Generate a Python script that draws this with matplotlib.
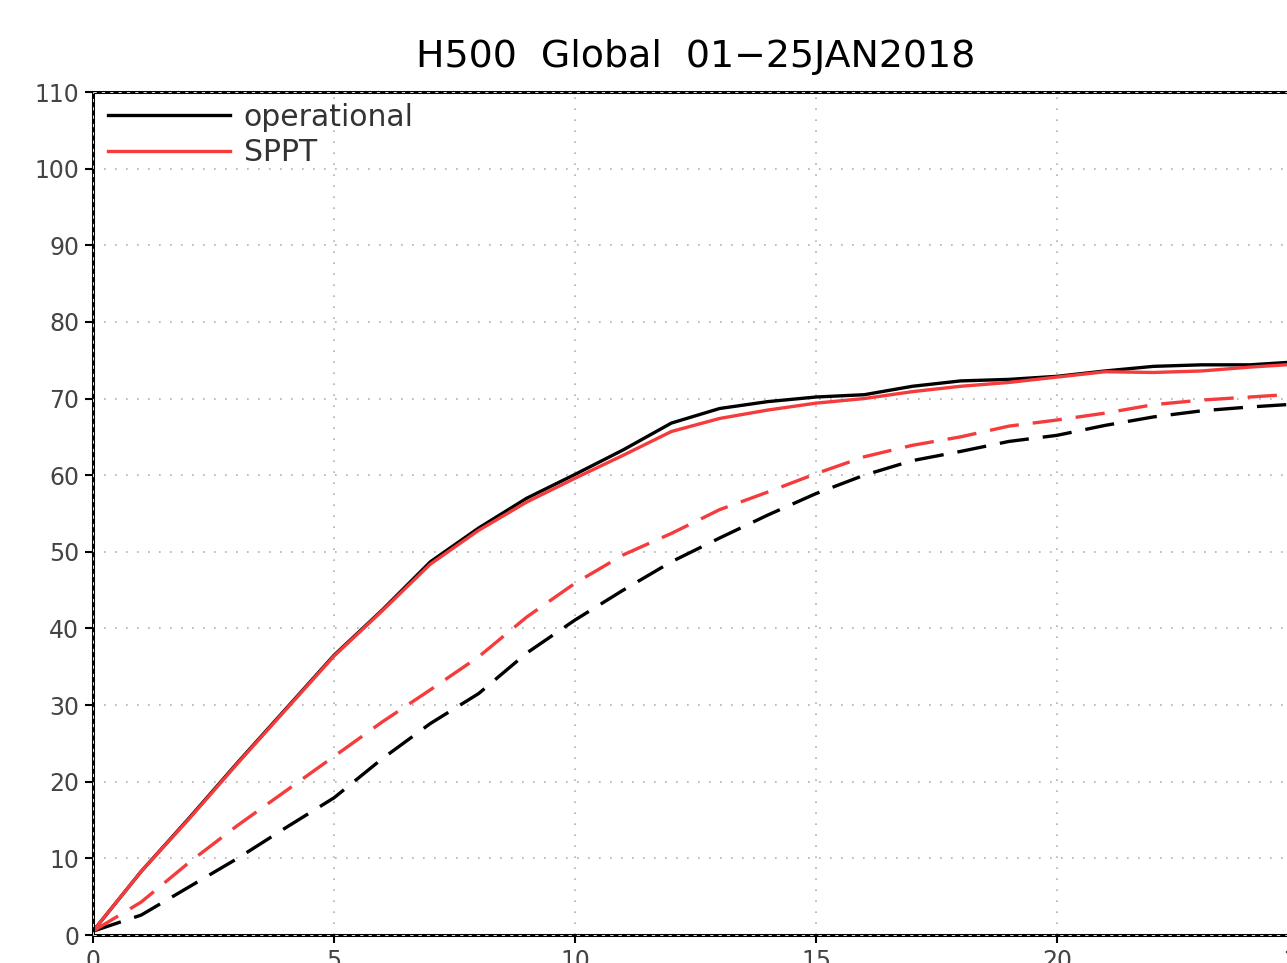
import numpy as np
import matplotlib
matplotlib.use("Agg")
import matplotlib.pyplot as plt

# forecast day
days = list(range(0, 26))

# solid: operational / SPPT (upper pair), dashed: lower pair
op_solid = [0.5, 8.3, 15.3, 22.5, 29.5, 36.5, 42.4, 48.7, 53.1, 57.0, 60.1, 63.3, 66.8,
            68.7, 69.6, 70.2, 70.5, 71.6, 72.3, 72.5, 72.9, 73.6, 74.2, 74.4, 74.4, 74.8]
sppt_solid = [0.5, 8.3, 15.2, 22.4, 29.4, 36.4, 42.3, 48.4, 52.8, 56.5, 59.6, 62.6, 65.7,
              67.4, 68.5, 69.4, 70.0, 70.9, 71.6, 72.1, 72.8, 73.5, 73.4, 73.6, 74.1, 74.5]
op_dash = [0.5, 2.6, 6.3, 10.0, 14.0, 17.9, 23.0, 27.6, 31.5, 36.8, 41.1, 45.0, 48.7,
           51.8, 54.8, 57.6, 60.0, 61.9, 63.1, 64.4, 65.2, 66.5, 67.6, 68.4, 68.9, 69.3]
sppt_dash = [0.5, 4.3, 9.5, 14.3, 18.8, 23.3, 27.8, 32.0, 36.3, 41.5, 45.9, 49.6, 52.4,
             55.5, 57.8, 60.2, 62.4, 63.9, 65.0, 66.4, 67.2, 68.1, 69.2, 69.8, 70.2, 70.6]

xticks = [0, 5, 10, 15, 20, 25]
yticks = list(range(0, 111, 10))

red = "#f53b3b"

fig = plt.figure(figsize=(12.87, 9.63), dpi=100)
ax = fig.add_axes([93 / 1287, 28 / 963, 1205 / 1287, 843 / 963])

ax.plot(days, op_solid, color="black", lw=2.4, label="operational")
ax.plot(days, sppt_solid, color=red, lw=2.4, label="SPPT")
ax.plot(days, op_dash, color="black", lw=2.4, dashes=(8.8, 4.2))
ax.plot(days, sppt_dash, color=red, lw=2.4, dashes=(8.8, 4.2))

ax.set_xlim(0, 25)
ax.set_ylim(0, 110)
ax.set_xticks(xticks)
ax.set_yticks(yticks)
ax.tick_params(direction="out", length=6, width=1.5, labelsize=17,
               labelcolor="#444444", pad=4)
ax.grid(True, color="#b0b0b0", lw=1.2, linestyle=(0, (1, 5.6)))

for s in ax.spines.values():
    s.set_linewidth(2.2)
    s.set_color("black")
# light dashes along the frame, like the original plot
for xs, ys in [([0, 1], [0, 0]), ([0, 1], [1, 1]), ([0, 0], [0, 1])]:
    ax.plot(xs, ys, transform=ax.transAxes, color="white", lw=0.6,
            dashes=(4, 6), clip_on=False, zorder=5)

ax.set_title("H500  Global  01\u221225JAN2018", fontsize=27.3, pad=18)

leg = ax.legend(loc="upper left", bbox_to_anchor=(0.0, 1.005), frameon=False,
                fontsize=21.5, handlelength=4.1, handletextpad=0.45,
                labelspacing=0.22, borderpad=0)
for t in leg.get_texts():
    t.set_color("#333333")

fig.savefig("out.png", dpi=100)
